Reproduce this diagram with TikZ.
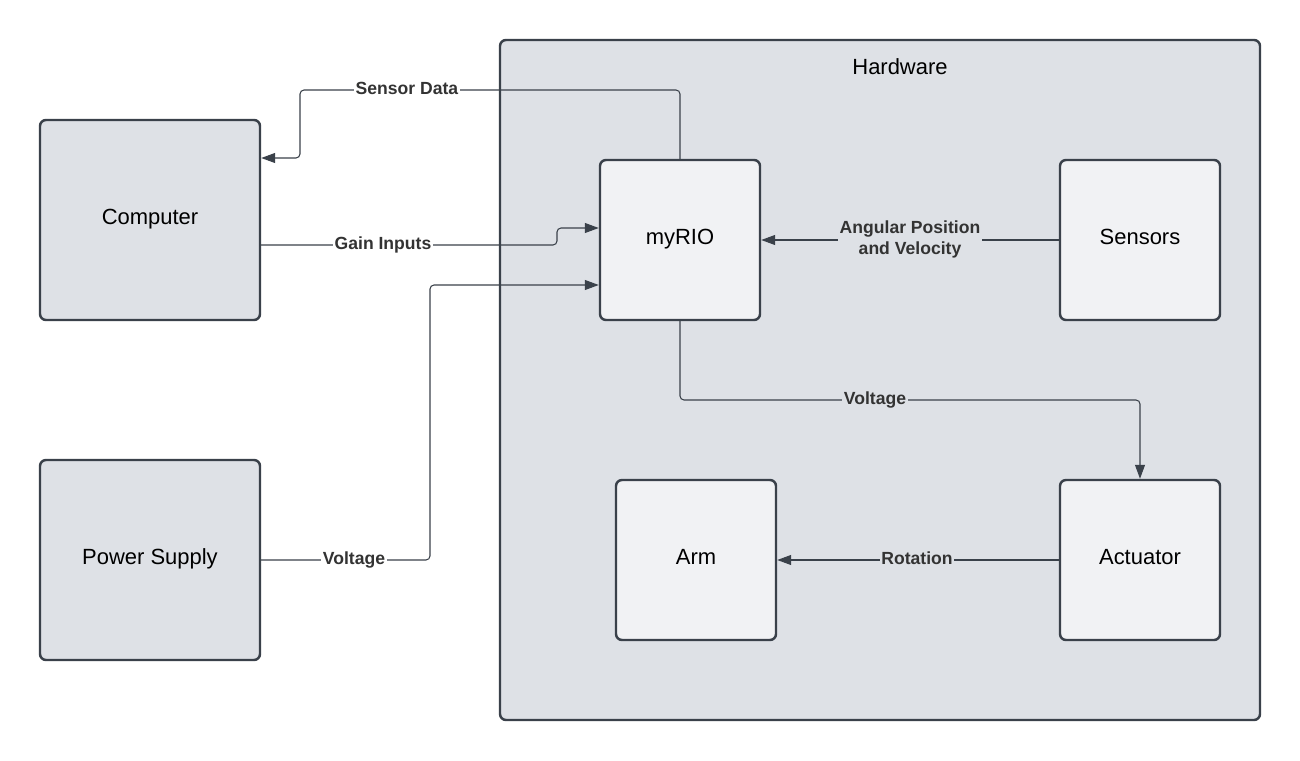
\documentclass[tikz,border=0pt]{standalone}
\usepackage{fontspec}
\setmainfont{Liberation Sans}
\usepackage{tikz}
\usetikzlibrary{positioning}
\usetikzlibrary{calc,arrows.meta}
\definecolor{hwgray}{HTML}{DEE1E6}
\definecolor{boxlight}{HTML}{F1F2F4}
\definecolor{linegray}{HTML}{3A414A}
\definecolor{txtgray}{HTML}{333333}
\tikzset{
  blk/.style = {draw=linegray, line width=1.4pt, rounded corners=0.12cm,
    align=center, inner sep=0pt, text height=9pt, text depth=4pt,
    font=\fontsize{12.5}{15}\selectfont},
  blk_out/.style = {blk, fill=hwgray, minimum width=4.4cm,
    minimum height=4cm},% bloc hors materiel
  blk_in/.style = {blk, fill=boxlight, minimum width=3.2cm,
    minimum height=3.2cm},% bloc dans le materiel
  conn/.style = {draw=linegray, line width=0.6pt, rounded corners=0.08cm,
    -{Triangle[length=0.28cm,width=0.2cm]}},% fleche
  lbl/.style = {font=\bfseries\fontsize{10}{12}\selectfont, text=txtgray,
    inner sep=1pt, align=center},% etiquette de fleche
  lbl1/.style = {lbl, text height=7.2pt, text depth=2.3pt}% etiquette une ligne
}
\begin{document}
\begin{tikzpicture}
\useasboundingbox (0,0) rectangle (26,15.2);
% cadre materiel
\node [draw=linegray, line width=1.4pt, rounded corners=0.12cm, fill=hwgray,
  minimum width=15.2cm, minimum height=13.6cm] (hardware) at (17.6,7.6) {};
\node [font=\fontsize{12.5}{15}\selectfont] (hwtitle) at (18,13.86) {Hardware};
% blocs
\node [blk_out] (computer) at (3,10.8) {Computer};
\node [blk_out] (psupply) at (3,4.0) {Power Supply};
\node [blk_in] (myrio) at (13.6,10.4) {myRIO};
\node [blk_in] (sensors) at (22.8,10.4) {Sensors};
\node [blk_in] (arm) at (13.92,4.0) {Arm};
\node [blk_in] (actuator) at (22.8,4.0) {Actuator};
% fleches
\draw [conn] (myrio.north) |- (6,13.4) |- ([yshift=1.24cm]computer.east);
\draw [conn] ([yshift=-0.5cm]computer.east) -- (11.14,10.3)
  -- (11.14,10.64) -- ([yshift=0.24cm]myrio.west);
\draw [conn] (psupply.east) -- (8.6,4.0) |- ([yshift=-0.9cm]myrio.west);
\draw [conn] (sensors.west) -- (myrio.east);
\draw [conn] (myrio.south) |- (18,7.2) -| (actuator.north);
\draw [conn] (actuator.west) -- (arm.east);
% etiquettes
\node [lbl1, fill=white] (l_sd) at (8.14,13.4) {Sensor Data};
\node [lbl1, fill=white] (l_gi) at (7.66,10.3) {Gain Inputs};
\node [lbl1, fill=white] (l_pv) at (7.08,4.0) {Voltage};
\node [lbl, fill=hwgray] (l_ap) at (18.2,10.41) {Angular Position\\and Velocity};
\node [lbl1, fill=hwgray] (l_mv) at (17.5,7.2) {Voltage};
\node [lbl1, fill=hwgray] (l_rt) at (18.34,4.0) {Rotation};
\end{tikzpicture}
\end{document}
